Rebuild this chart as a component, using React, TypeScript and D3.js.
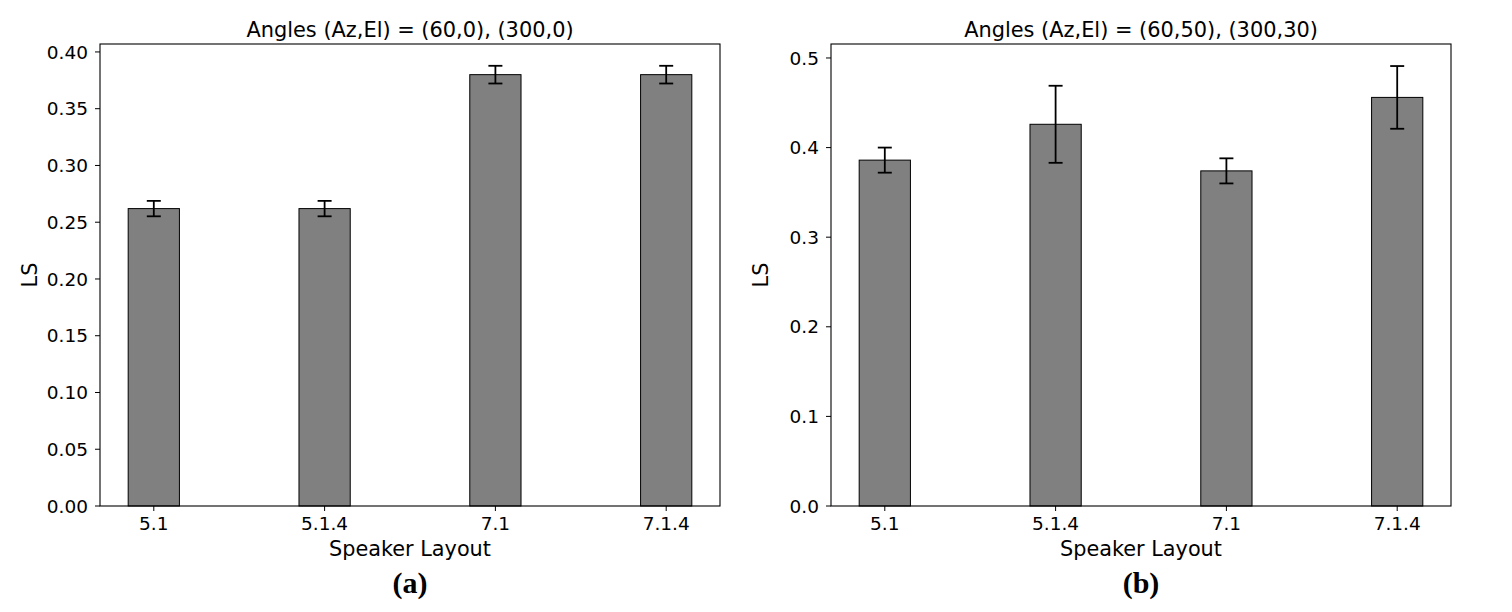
import React from "react";
import * as d3 from "d3";

const categories = ["5.1", "5.1.4", "7.1", "7.1.4"];
const valuesA = [0.262, 0.262, 0.380, 0.380];
const errorsA = [0.0068, 0.0068, 0.0078, 0.0078];
const valuesB = [0.386, 0.426, 0.374, 0.456];
const errorsB = [0.014, 0.043, 0.014, 0.035];
const ticksA = [0, 0.05, 0.1, 0.15, 0.2, 0.25, 0.3, 0.35, 0.4];
const ticksB = [0, 0.1, 0.2, 0.3, 0.4, 0.5];
const titleA = "Angles (Az,El) = (60,0), (300,0)";
const titleB = "Angles (Az,El) = (60,50), (300,30)";

const FONT = "DejaVu Sans";

function Panel({ x0, x1, yTop, yBot, values, errors, ticks, yMax, fmt, title, caption }) {
  const xs = d3.scaleLinear().domain([-0.315, 3.315]).range([x0, x1]);
  const ys = d3.scaleLinear().domain([0, yMax]).range([yBot, yTop]);
  const bw = xs(0.3) - xs(0);
  const cx = (x0 + x1) / 2;
  return (
    <g>
      {values.map((v, i) => (
        <rect key={"b" + i} x={xs(i) - bw / 2} y={ys(v)} width={bw} height={ys(0) - ys(v)}
          fill="#808080" stroke="#000" strokeWidth={1} />
      ))}
      {values.map((v, i) => (
        <g key={"e" + i} stroke="#000" strokeWidth={1.8}>
          <line x1={xs(i)} x2={xs(i)} y1={ys(v + errors[i])} y2={ys(v - errors[i])} />
          <line x1={xs(i) - 7} x2={xs(i) + 7} y1={ys(v + errors[i])} y2={ys(v + errors[i])} />
          <line x1={xs(i) - 7} x2={xs(i) + 7} y1={ys(v - errors[i])} y2={ys(v - errors[i])} />
        </g>
      ))}
      <rect x={x0} y={yTop} width={x1 - x0} height={yBot - yTop} fill="none" stroke="#000" strokeWidth={1.1} />
      {ticks.map((t) => (
        <g key={"t" + t}>
          <line x1={x0 - 5} x2={x0} y1={ys(t)} y2={ys(t)} stroke="#000" strokeWidth={1} />
          <text x={x0 - 12} y={ys(t)} dy="0.36em" textAnchor="end" fontFamily={FONT} fontSize={18.5}>{fmt(t)}</text>
        </g>
      ))}
      {categories.map((c, i) => (
        <g key={"c" + i}>
          <line x1={xs(i)} x2={xs(i)} y1={yBot} y2={yBot + 5} stroke="#000" strokeWidth={1} />
          <text x={xs(i)} y={yBot + 24} textAnchor="middle" fontFamily={FONT} fontSize={18.5}>{c}</text>
        </g>
      ))}
      <text x={cx} y={yBot + 50} textAnchor="middle" fontFamily={FONT} fontSize={20.8}>Speaker Layout</text>
      <text x={cx} y={yTop - 7} textAnchor="middle" fontFamily={FONT} fontSize={20.9}>{title}</text>
      <text transform={`translate(${x0 - 63},${(yTop + yBot) / 2}) rotate(-90)`} textAnchor="middle" fontFamily={FONT} fontSize={20.8}>LS</text>
      <text x={cx} y={yBot + 87} textAnchor="middle" fontFamily="Liberation Serif" fontWeight="bold" fontSize={30}>{caption}</text>
    </g>
  );
}

export default function App() {
  return (
    <div style={{ position: "fixed", left: 0, top: 0 }}>
      <svg width={1512} height={612} style={{ display: "block", background: "#fff" }}>
        <Panel x0={100} x1={720} yTop={44} yBot={506} values={valuesA} errors={errorsA} ticks={ticksA}
          yMax={0.407} fmt={d3.format(".2f")} title={titleA} caption="(a)" />
        <Panel x0={831} x1={1451} yTop={44} yBot={506} values={valuesB} errors={errorsB} ticks={ticksB}
          yMax={0.5156} fmt={d3.format(".1f")} title={titleB} caption="(b)" />
      </svg>
    </div>
  );
}
